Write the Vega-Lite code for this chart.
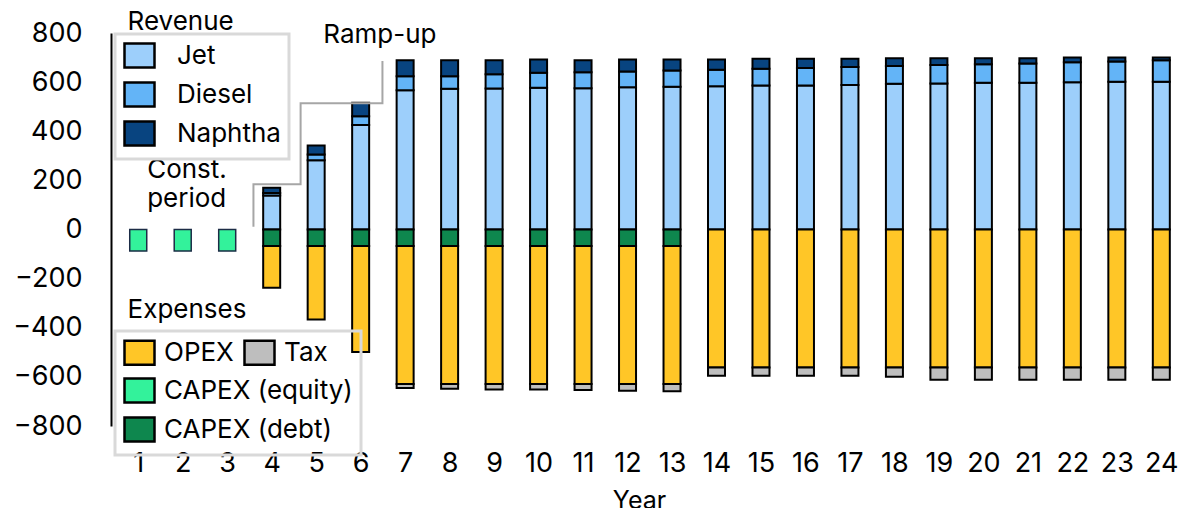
{
  "$schema": "https://vega.github.io/schema/vega-lite/v6.json",
  "autosize": {"type": "none"},
  "width": 1074,
  "height": 393,
  "padding": {"left": 111, "top": 33, "right": 0, "bottom": 82},
  "background": "white",
  "config": {
    "view": {"stroke": null},
    "font": "Inter",
    "axis": {"grid": false, "ticks": false, "labelColor": "black", "labelFont": "Inter"},
    "axisX": {"domain": false, "labelFontSize": 27, "labelPadding": 24, "titleFontSize": 25, "titleFontWeight": "normal", "titleColor": "black", "titleX": 528, "titleY": 62, "titleBaseline": "top"},
    "axisY": {"domain": true, "domainColor": "black", "domainWidth": 2, "labelFontSize": 27, "labelPadding": 29},
    "legend": {
      "orient": "none", "symbolType": "M-1,-1H1.5V1H-1Z", "symbolSize": 576, "symbolStrokeColor": "black", "symbolStrokeWidth": 2.5,
      "symbolOpacity": 1, "labelFont": "Inter", "labelFontSize": 26, "labelColor": "black", "labelLimit": 400,
      "rowPadding": 4, "padding": 8
    }
  },
  "datasets": {
    "flows": [
      {"year": 1, "series": "CAPEX (equity)", "value": -88},
      {"year": 2, "series": "CAPEX (equity)", "value": -88},
      {"year": 3, "series": "CAPEX (equity)", "value": -88},

      {"year": 4, "series": "Jet", "value": 138}, {"year": 4, "series": "Diesel", "value": 11}, {"year": 4, "series": "Naphtha", "value": 21},
      {"year": 5, "series": "Jet", "value": 282}, {"year": 5, "series": "Diesel", "value": 23}, {"year": 5, "series": "Naphtha", "value": 37},
      {"year": 6, "series": "Jet", "value": 425}, {"year": 6, "series": "Diesel", "value": 36}, {"year": 6, "series": "Naphtha", "value": 55},
      {"year": 7, "series": "Jet", "value": 567}, {"year": 7, "series": "Diesel", "value": 57}, {"year": 7, "series": "Naphtha", "value": 65},
      {"year": 8, "series": "Jet", "value": 573}, {"year": 8, "series": "Diesel", "value": 51}, {"year": 8, "series": "Naphtha", "value": 65},
      {"year": 9, "series": "Jet", "value": 574}, {"year": 9, "series": "Diesel", "value": 58}, {"year": 9, "series": "Naphtha", "value": 57},
      {"year": 10, "series": "Jet", "value": 577}, {"year": 10, "series": "Diesel", "value": 61}, {"year": 10, "series": "Naphtha", "value": 54},
      {"year": 11, "series": "Jet", "value": 575}, {"year": 11, "series": "Diesel", "value": 65}, {"year": 11, "series": "Naphtha", "value": 49},
      {"year": 12, "series": "Jet", "value": 579}, {"year": 12, "series": "Diesel", "value": 64}, {"year": 12, "series": "Naphtha", "value": 49},
      {"year": 13, "series": "Jet", "value": 581}, {"year": 13, "series": "Diesel", "value": 66}, {"year": 13, "series": "Naphtha", "value": 45},
      {"year": 14, "series": "Jet", "value": 583}, {"year": 14, "series": "Diesel", "value": 67}, {"year": 14, "series": "Naphtha", "value": 42},
      {"year": 15, "series": "Jet", "value": 586}, {"year": 15, "series": "Diesel", "value": 68}, {"year": 15, "series": "Naphtha", "value": 41},
      {"year": 16, "series": "Jet", "value": 586}, {"year": 16, "series": "Diesel", "value": 71}, {"year": 16, "series": "Naphtha", "value": 38},
      {"year": 17, "series": "Jet", "value": 588}, {"year": 17, "series": "Diesel", "value": 74}, {"year": 17, "series": "Naphtha", "value": 33},
      {"year": 18, "series": "Jet", "value": 593}, {"year": 18, "series": "Diesel", "value": 73}, {"year": 18, "series": "Naphtha", "value": 31},
      {"year": 19, "series": "Jet", "value": 594}, {"year": 19, "series": "Diesel", "value": 76}, {"year": 19, "series": "Naphtha", "value": 27},
      {"year": 20, "series": "Jet", "value": 597}, {"year": 20, "series": "Diesel", "value": 76}, {"year": 20, "series": "Naphtha", "value": 24},
      {"year": 21, "series": "Jet", "value": 597}, {"year": 21, "series": "Diesel", "value": 79}, {"year": 21, "series": "Naphtha", "value": 21},
      {"year": 22, "series": "Jet", "value": 600}, {"year": 22, "series": "Diesel", "value": 81}, {"year": 22, "series": "Naphtha", "value": 19},
      {"year": 23, "series": "Jet", "value": 602}, {"year": 23, "series": "Diesel", "value": 82}, {"year": 23, "series": "Naphtha", "value": 16},
      {"year": 24, "series": "Jet", "value": 602}, {"year": 24, "series": "Diesel", "value": 87}, {"year": 24, "series": "Naphtha", "value": 11},

      {"year": 4, "series": "CAPEX (debt)", "value": -67}, {"year": 4, "series": "OPEX", "value": -170},
      {"year": 5, "series": "CAPEX (debt)", "value": -67}, {"year": 5, "series": "OPEX", "value": -299},
      {"year": 6, "series": "CAPEX (debt)", "value": -67}, {"year": 6, "series": "OPEX", "value": -432},
      {"year": 7, "series": "CAPEX (debt)", "value": -67}, {"year": 7, "series": "OPEX", "value": -562}, {"year": 7, "series": "Tax", "value": -16},
      {"year": 8, "series": "CAPEX (debt)", "value": -67}, {"year": 8, "series": "OPEX", "value": -562}, {"year": 8, "series": "Tax", "value": -19},
      {"year": 9, "series": "CAPEX (debt)", "value": -67}, {"year": 9, "series": "OPEX", "value": -562}, {"year": 9, "series": "Tax", "value": -22},
      {"year": 10, "series": "CAPEX (debt)", "value": -67}, {"year": 10, "series": "OPEX", "value": -562}, {"year": 10, "series": "Tax", "value": -22},
      {"year": 11, "series": "CAPEX (debt)", "value": -67}, {"year": 11, "series": "OPEX", "value": -562}, {"year": 11, "series": "Tax", "value": -24},
      {"year": 12, "series": "CAPEX (debt)", "value": -67}, {"year": 12, "series": "OPEX", "value": -562}, {"year": 12, "series": "Tax", "value": -27},
      {"year": 13, "series": "CAPEX (debt)", "value": -67}, {"year": 13, "series": "OPEX", "value": -562}, {"year": 13, "series": "Tax", "value": -30},
      {"year": 14, "series": "OPEX", "value": -562}, {"year": 14, "series": "Tax", "value": -33},
      {"year": 15, "series": "OPEX", "value": -562}, {"year": 15, "series": "Tax", "value": -33},
      {"year": 16, "series": "OPEX", "value": -562}, {"year": 16, "series": "Tax", "value": -33},
      {"year": 17, "series": "OPEX", "value": -562}, {"year": 17, "series": "Tax", "value": -33},
      {"year": 18, "series": "OPEX", "value": -562}, {"year": 18, "series": "Tax", "value": -37},
      {"year": 19, "series": "OPEX", "value": -562}, {"year": 19, "series": "Tax", "value": -50},
      {"year": 20, "series": "OPEX", "value": -562}, {"year": 20, "series": "Tax", "value": -50},
      {"year": 21, "series": "OPEX", "value": -562}, {"year": 21, "series": "Tax", "value": -50},
      {"year": 22, "series": "OPEX", "value": -562}, {"year": 22, "series": "Tax", "value": -50},
      {"year": 23, "series": "OPEX", "value": -562}, {"year": 23, "series": "Tax", "value": -50},
      {"year": 24, "series": "OPEX", "value": -562}, {"year": 24, "series": "Tax", "value": -50}
    ],
    "bracket": [
      {"step": 1, "year": 3.59, "value": 11},
      {"step": 2, "year": 3.59, "value": 184},
      {"step": 3, "year": 4.65, "value": 184},
      {"step": 4, "year": 4.65, "value": 514},
      {"step": 5, "year": 6.49, "value": 514},
      {"step": 6, "year": 6.49, "value": 686}
    ],
    "notes": [
      {"year": 1.2, "value": 208, "label": "Const."},
      {"year": 1.2, "value": 92, "label": "period"},
      {"year": 5.16, "value": 758, "label": "Ramp-up"},
      {"year": 0.76, "value": 812, "label": "Revenue"},
      {"year": 0.76, "value": -359, "label": "Expenses"}
    ]
  },
  "layer": [
    {
      "data": {"name": "flows"},
      "transform": [
        {"calculate": "indexof(['Jet','Diesel','Naphtha','CAPEX (equity)','CAPEX (debt)','OPEX','Tax'], datum.series)", "as": "rank"},
        {"stack": "value", "groupby": ["year"], "sort": [{"field": "rank", "order": "ascending"}], "as": ["v0", "v1"]},
        {"filter": {"field": "series", "oneOf": ["Jet", "Diesel", "Naphtha"]}}
      ],
      "mark": {"type": "bar", "size": 17, "stroke": "black", "strokeWidth": 2},
      "encoding": {
        "x": {"field": "year", "type": "quantitative", "title": "Year",
              "scale": {"domain": [0.5, 24.42], "nice": false, "zero": false},
              "axis": {"values": [1,2,3,4,5,6,7,8,9,10,11,12,13,14,15,16,17,18,19,20,21,22,23,24], "format": "d"}},
        "y": {"field": "v0", "type": "quantitative", "title": null,
              "scale": {"domain": [-800, 800], "nice": false},
              "axis": {"values": [-800, -600, -400, -200, 0, 200, 400, 600, 800]}},
        "y2": {"field": "v1"},
        "color": {
          "field": "series", "type": "nominal",
          "scale": {"domain": ["Jet", "Diesel", "Naphtha"], "range": ["#9dcffb", "#63b4f7", "#084480"]},
          "legend": {
            "title": null, "legendX": 4, "legendY": 1, "direction": "vertical", "labelOffset": 27,
            "strokeColor": "#d9d9d9",
            "encode": {"legend": {"update": {"strokeWidth": {"value": 3}}}}
          }
        }
      }
    },
    {
      "data": {"name": "flows"},
      "transform": [
        {"calculate": "indexof(['Jet','Diesel','Naphtha','CAPEX (equity)','CAPEX (debt)','OPEX','Tax'], datum.series)", "as": "rank"},
        {"stack": "value", "groupby": ["year"], "sort": [{"field": "rank", "order": "ascending"}], "as": ["v0", "v1"]},
        {"filter": {"field": "series", "oneOf": ["CAPEX (equity)", "CAPEX (debt)"]}}
      ],
      "mark": {"type": "bar", "size": 17},
      "encoding": {
        "x": {"field": "year", "type": "quantitative", "title": "Year",
              "scale": {"domain": [0.5, 24.42], "nice": false, "zero": false},
              "axis": {"values": [1,2,3,4,5,6,7,8,9,10,11,12,13,14,15,16,17,18,19,20,21,22,23,24], "format": "d"}},
        "y": {"field": "v0", "type": "quantitative", "title": null,
              "scale": {"domain": [-800, 800], "nice": false},
              "axis": {"values": [-800, -600, -400, -200, 0, 200, 400, 600, 800]}},
        "y2": {"field": "v1"},
        "stroke": {"condition": {"test": "datum.series === 'CAPEX (equity)'", "value": "#1c2c46"}, "value": "black"},
        "strokeWidth": {"condition": {"test": "datum.series === 'CAPEX (equity)'", "value": 1.5}, "value": 2},
        "color": {
          "field": "series", "type": "nominal",
          "scale": {"domain": ["CAPEX (equity)", "CAPEX (debt)"], "range": ["#33f29b", "#0e874e"]},
          "legend": {
            "title": " ", "titleFontSize": 26, "titlePadding": 12, "legendX": 4, "legendY": 298, "direction": "vertical",
            "labelOffset": 14, "strokeColor": "#d9d9d9",
            "encode": {"legend": {"update": {"strokeWidth": {"value": 3}}}}
          }
        }
      }
    },
    {
      "data": {"name": "flows"},
      "transform": [
        {"calculate": "indexof(['Jet','Diesel','Naphtha','CAPEX (equity)','CAPEX (debt)','OPEX','Tax'], datum.series)", "as": "rank"},
        {"stack": "value", "groupby": ["year"], "sort": [{"field": "rank", "order": "ascending"}], "as": ["v0", "v1"]},
        {"filter": {"field": "series", "oneOf": ["OPEX", "Tax"]}}
      ],
      "mark": {"type": "bar", "size": 17, "stroke": "black", "strokeWidth": 2},
      "encoding": {
        "x": {"field": "year", "type": "quantitative", "title": "Year",
              "scale": {"domain": [0.5, 24.42], "nice": false, "zero": false},
              "axis": {"values": [1,2,3,4,5,6,7,8,9,10,11,12,13,14,15,16,17,18,19,20,21,22,23,24], "format": "d"}},
        "y": {"field": "v0", "type": "quantitative", "title": null,
              "scale": {"domain": [-800, 800], "nice": false},
              "axis": {"values": [-800, -600, -400, -200, 0, 200, 400, 600, 800]}},
        "y2": {"field": "v1"},
        "color": {
          "field": "series", "type": "nominal",
          "scale": {"domain": ["OPEX", "Tax"], "range": ["#ffc627", "#bebebe"]},
          "legend": {
            "title": null, "legendX": 4, "legendY": 298, "direction": "horizontal",
            "labelOffset": 14, "columnPadding": 5, "strokeColor": "transparent"
          }
        }
      }
    },
    {
      "mark": {"type": "rule", "color": "black", "strokeWidth": 2},
      "encoding": {"y": {"datum": 0, "type": "quantitative", "scale": {"domain": [-800, 800], "nice": false}}}
    },
    {
      "data": {"name": "bracket"},
      "mark": {"type": "line", "color": "#a6a6a6", "strokeWidth": 2},
      "encoding": {
        "x": {"field": "year", "type": "quantitative", "title": "Year",
              "scale": {"domain": [0.5, 24.42], "nice": false, "zero": false},
              "axis": {"values": [1,2,3,4,5,6,7,8,9,10,11,12,13,14,15,16,17,18,19,20,21,22,23,24], "format": "d"}},
        "y": {"field": "value", "type": "quantitative", "title": null,
              "scale": {"domain": [-800, 800], "nice": false},
              "axis": {"values": [-800, -600, -400, -200, 0, 200, 400, 600, 800]}},
        "order": {"field": "step"}
      }
    },
    {
      "data": {"name": "notes"},
      "mark": {"type": "text", "align": "left", "baseline": "alphabetic", "font": "Inter", "fontSize": 26, "color": "black"},
      "encoding": {
        "x": {"field": "year", "type": "quantitative", "title": "Year",
              "scale": {"domain": [0.5, 24.42], "nice": false, "zero": false},
              "axis": {"values": [1,2,3,4,5,6,7,8,9,10,11,12,13,14,15,16,17,18,19,20,21,22,23,24], "format": "d"}},
        "y": {"field": "value", "type": "quantitative", "title": null,
              "scale": {"domain": [-800, 800], "nice": false},
              "axis": {"values": [-800, -600, -400, -200, 0, 200, 400, 600, 800]}},
        "text": {"field": "label"}
      }
    }
  ],
  "resolve": {"scale": {"color": "independent"}, "legend": {"color": "independent"}}
}
